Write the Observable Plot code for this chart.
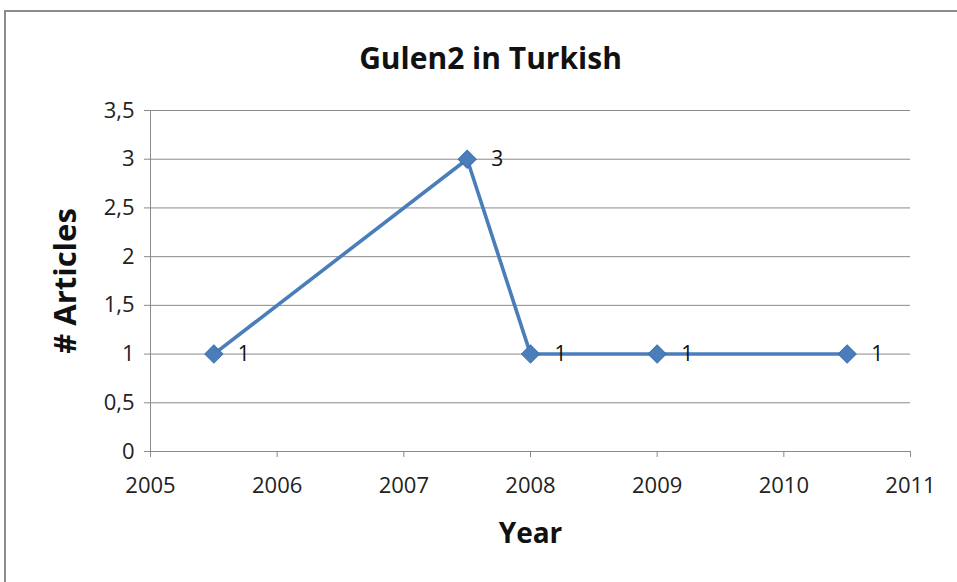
<!DOCTYPE html>
<html>
<head>
<meta charset="utf-8">
<script src="https://cdn.jsdelivr.net/npm/d3@7"></script>
<script src="https://cdn.jsdelivr.net/npm/@observablehq/plot@0.6"></script>
<style>
  html, body { margin: 0; padding: 0; background: #fff; }
  #wrap { position: relative; width: 957px; height: 582px; overflow: hidden; }
  #border { position: absolute; left: 4px; top: 10px; width: 960px; height: 580px;
            border-top: 2px solid #8c8c8c; border-left: 2px solid #8c8c8c; box-sizing: border-box; }
  #chart { position: absolute; left: 0; top: 0; }
</style>
</head>
<body>
<div id="wrap"><div id="border"></div><div id="chart"></div></div>
<script>
const years = [2005.5, 2007.5, 2008, 2009, 2010.5];
const articles = [1, 3, 1, 1, 1];
const xTicks = [2005, 2006, 2007, 2008, 2009, 2010, 2011];
const yTicks = [0, 0.5, 1, 1.5, 2, 2.5, 3, 3.5];
const title = "Gulen2 in Turkish";
const xLabel = "Year";
const yLabel = "# Articles";

const data = years.map((y, i) => ({year: y, n: articles[i]}));
const blue = "#4a7ebb";
const fmt = d => String(d).replace(".", ",");

const chart = Plot.plot({
  width: 957,
  height: 582,
  marginTop: 110,
  marginBottom: 131,
  marginLeft: 150,
  marginRight: 47,
  style: {fontFamily: "'Open Sans', sans-serif", fontSize: "22px", background: "transparent", color: "#222"},
  x: {domain: [2005, 2011]},
  y: {domain: [0, 3.5]},
  marks: [
    Plot.gridY(yTicks, {stroke: "#8a8a8a", strokeOpacity: 1, strokeWidth: 1}),
    Plot.ruleX([2005], {stroke: "#8a8a8a", strokeWidth: 1}),
    Plot.axisY(yTicks, {tickSize: 6, tickPadding: 10, tickFormat: fmt, stroke: "#8a8a8a", label: null}),
    Plot.axisX(xTicks, {tickSize: 6, tickPadding: 20, tickFormat: d => String(d), stroke: "#8a8a8a", label: null}),
    Plot.text([yLabel], {frameAnchor: "left", textAnchor: "middle", dx: -84, rotate: -90, fontSize: 31, fontWeight: "bold", fill: "#111"}),
    Plot.text([xLabel], {frameAnchor: "bottom", dy: 91, fontSize: 28, fontWeight: "bold", fill: "#111"}),
    Plot.text([title], {frameAnchor: "top", dx: -40, dy: -63, fontSize: 30, fontWeight: "bold", fill: "#111"}),
    Plot.line(data, {x: "year", y: "n", stroke: blue, strokeWidth: 3.6}),
    Plot.dot(data, {x: "year", y: "n", symbol: "square", rotate: 45, r: 7.2, fill: blue, stroke: "#4171ad", strokeWidth: 1}),
    Plot.text(data, {x: "year", y: "n", text: d => fmt(d.n), dx: 24, textAnchor: "start", fontSize: 21, fill: "#111"})
  ]
});
d3.select(chart).selectAll("g[aria-label$='tick label']").attr("font-size", "22px").style("font-size", "22px");
d3.select(chart).selectAll("g[aria-label$='tick label'] text").attr("font-size", null).style("font-size", "22px");
document.getElementById("chart").appendChild(chart);
</script>
</body>
</html>
